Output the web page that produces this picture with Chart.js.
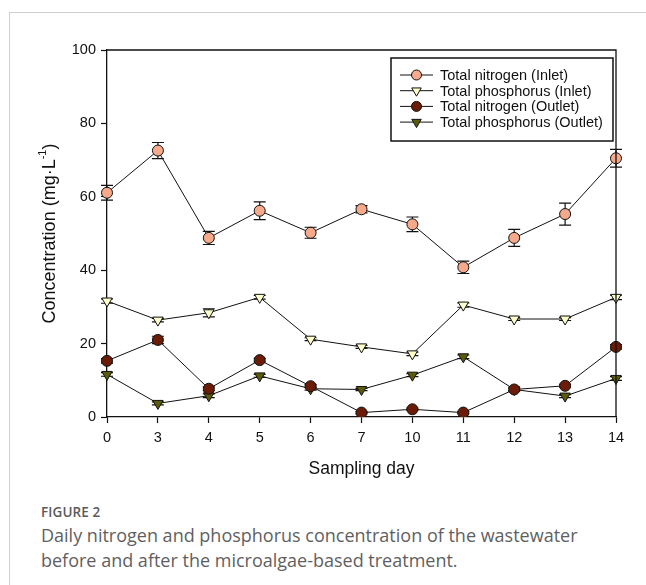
<!DOCTYPE html>
<html>
<head>
<meta charset="utf-8">
<script src="https://cdn.jsdelivr.net/npm/chart.js@4.4.1/dist/chart.umd.min.js"></script>
<style>
  html, body { margin: 0; padding: 0; background: #fff; }
  body { width: 646px; height: 585px; position: relative; overflow: hidden; }
  #frame { position: absolute; left: 9px; top: 12px; width: 700px; height: 700px;
           border-top: 1px solid #d0d0d0; border-left: 1px solid #d0d0d0; }
  #wrap { position: absolute; left: 0; top: 0; width: 646px; height: 500px; }
  #cap { position: absolute; left: 41px; top: 502px; font-family: "Open Sans", "Noto Sans", sans-serif; color: #5f5f5f; }
  #cap .fig { font-size: 13.5px; font-weight: 600; letter-spacing: 0.1px; line-height: 20px; color: #5a5a5a; }
  #cap .txt { font-size: 18px; line-height: 25px; margin-top: 1px; }
</style>
</head>
<body>
<div id="frame"></div>
<div id="wrap"><canvas id="c" width="646" height="500"></canvas></div>
<div id="cap">
  <div class="fig">FIGURE 2</div>
  <div class="txt">Daily nitrogen and phosphorus concentration of the wastewater<br>before and after the microalgae-based treatment.</div>
</div>
<script>
const days = ['0','3','4','5','6','7','10','11','12','13','14'];
const yTicks = [0, 20, 40, 60, 80, 100];

const tnInlet  = [61.1, 72.6, 48.8, 56.2, 50.2, 56.6, 52.5, 40.8, 48.8, 55.3, 70.5];
const tnInletErr = [2.0, 2.2, 1.8, 2.4, 1.5, 1.0, 2.0, 1.7, 2.3, 3.0, 2.4];
const tpInlet  = [31.6, 26.4, 28.4, 32.6, 21.2, 19.1, 17.2, 30.5, 26.7, 26.7, 32.6];
const tpInletErr = [0.6, 0.5, 1.1, 0.5, 0.4, 0.4, 0.5, 0.6, 0.4, 0.4, 0.6];
const tnOutlet = [15.3, 21.0, 7.7, 15.5, 8.4, 1.2, 2.1, 1.2, 7.5, 8.5, 19.1];
const tnOutletErr = [0.6, 1.0, 0.5, 0.5, 0.4, 0.3, 0.3, 0.3, 0.4, 0.4, 0.6];
const tpOutlet = [11.6, 3.7, 5.8, 11.2, 7.7, 7.5, 11.4, 16.4, 7.5, 5.7, 10.5];
const tpOutletErr = [0.5, 0.4, 0.5, 0.4, 0.4, 0.3, 0.4, 0.5, 0.4, 0.4, 0.5];

const seriesNames = ['Total nitrogen (Inlet)', 'Total phosphorus (Inlet)', 'Total nitrogen (Outlet)', 'Total phosphorus (Outlet)'];
const FONT = '"Liberation Sans", Arial, sans-serif';

function ds(label, data, err, fill, style) {
  const tri = style === 'triangle';
  return {
    label, data, err,
    borderColor: '#111', borderWidth: 1,
    pointStyle: style, pointRotation: tri ? 180 : 0,
    pointRadius: tri ? 6 : 5.5, pointHoverRadius: tri ? 6 : 5.5,
    pointBackgroundColor: fill, pointBorderColor: '#111', pointBorderWidth: 1,
    tension: 0, fill: false
  };
}

const datasets = [
  ds(seriesNames[0], tnInlet, tnInletErr, '#f7a98b', 'circle'),
  ds(seriesNames[1], tpInlet, tpInletErr, '#ffffcc', 'triangle'),
  ds(seriesNames[2], tnOutlet, tnOutletErr, '#6a1c06', 'circle'),
  ds(seriesNames[3], tpOutlet, tpOutletErr, '#5b5b0a', 'triangle')
];

const errorBars = {
  id: 'errorBars',
  beforeDatasetsDraw(chart) {
    const ctx = chart.ctx, xs = chart.scales.x, ys = chart.scales.y;
    ctx.save();
    ctx.strokeStyle = '#111'; ctx.lineWidth = 1.2;
    chart.data.datasets.forEach(d => {
      d.data.forEach((v, i) => {
        const e = d.err[i];
        const x = xs.getPixelForValue(i);
        const y1 = ys.getPixelForValue(v + e), y2 = ys.getPixelForValue(v - e);
        ctx.beginPath();
        ctx.moveTo(x, y1); ctx.lineTo(x, y2);
        ctx.moveTo(x - 6, y1); ctx.lineTo(x + 6, y1);
        ctx.moveTo(x - 6, y2); ctx.lineTo(x + 6, y2);
        ctx.stroke();
      });
    });
    ctx.restore();
  }
};

const decor = {
  id: 'decor',
  afterDraw(chart) {
    const ctx = chart.ctx, a = chart.chartArea;
    ctx.save();
    ctx.strokeStyle = '#111'; ctx.lineWidth = 1.3;
    ctx.beginPath();
    ctx.moveTo(a.left, a.top); ctx.lineTo(a.right, a.top); ctx.lineTo(a.right, a.bottom);
    ctx.stroke();
    ctx.fillStyle = '#111';
    ctx.font = '17.5px ' + FONT;
    ctx.textAlign = 'center'; ctx.textBaseline = 'middle';
    ctx.fillText('Sampling day', (a.left + a.right) / 2, a.bottom + 52);
    ctx.save();
    ctx.translate(a.left - 57, (a.top + a.bottom) / 2);
    ctx.rotate(-Math.PI / 2);
    const p1 = 'Concentration (mg\u00b7L', p2 = '-1', p3 = ')';
    ctx.font = '18px ' + FONT;
    const w1 = ctx.measureText(p1).width, w3 = ctx.measureText(p3).width;
    ctx.font = '11px ' + FONT;
    const w2 = ctx.measureText(p2).width;
    let x0 = -(w1 + w2 + w3) / 2;
    ctx.textAlign = 'left';
    ctx.font = '18px ' + FONT;
    ctx.fillText(p1, x0, 0);
    ctx.font = '11px ' + FONT;
    ctx.fillText(p2, x0 + w1, -7);
    ctx.font = '18px ' + FONT;
    ctx.fillText(p3, x0 + w1 + w2, 0);
    ctx.restore();
    const bx = a.right - 225, by = a.top + 8, bw = 222, bh = 83;
    ctx.fillStyle = '#fff';
    ctx.fillRect(bx, by, bw, bh);
    ctx.lineWidth = 1.5; ctx.strokeStyle = '#111';
    ctx.strokeRect(bx, by, bw, bh);
    ctx.font = '14.5px ' + FONT;
    ctx.textAlign = 'left'; ctx.textBaseline = 'middle';
    chart.data.datasets.forEach((d, i) => {
      const y = by + 17 + i * 15.7;
      ctx.strokeStyle = '#111'; ctx.lineWidth = 1;
      ctx.beginPath(); ctx.moveTo(bx + 9, y); ctx.lineTo(bx + 42, y); ctx.stroke();
      ctx.fillStyle = d.pointBackgroundColor;
      ctx.strokeStyle = '#111';
      Chart.helpers.drawPoint(ctx, { pointStyle: d.pointStyle, rotation: d.pointRotation, radius: d.pointRadius - 0.5, borderWidth: 1 }, bx + 25.5, y);
      ctx.fillStyle = '#111';
      ctx.fillText(d.label, bx + 49, y + 1);
    });
    ctx.restore();
  }
};

new Chart(document.getElementById('c'), {
  type: 'line',
  data: { labels: days, datasets },
  options: {
    responsive: false, animation: false,
    layout: { padding: { left: 0, right: 30, top: 50, bottom: 23 } },
    plugins: { legend: { display: false }, tooltip: { enabled: false } },
    scales: {
      x: {
        type: 'category', offset: false,
        grid: { display: true, drawOnChartArea: false, drawTicks: true, tickLength: 6, color: '#111', tickWidth: 1.2 },
        border: { display: true, color: '#111', width: 1.3 },
        ticks: { color: '#111', font: { size: 14.5, family: FONT }, padding: 6, maxRotation: 0, autoSkip: false },
        afterFit(s) { s.height = 60; }
      },
      y: {
        min: 0, max: 100,
        afterBuildTicks(s) { s.ticks = yTicks.map(v => ({ value: v })); },
        grid: { display: true, drawOnChartArea: false, drawTicks: true, tickLength: 6, color: '#111', tickWidth: 1.2 },
        border: { display: true, color: '#111', width: 1.3 },
        ticks: { color: '#111', font: { size: 14.5, family: FONT }, padding: 5 },
        afterFit(s) { s.width = 107; }
      }
    }
  },
  plugins: [errorBars, decor]
});
</script>
</body>
</html>
